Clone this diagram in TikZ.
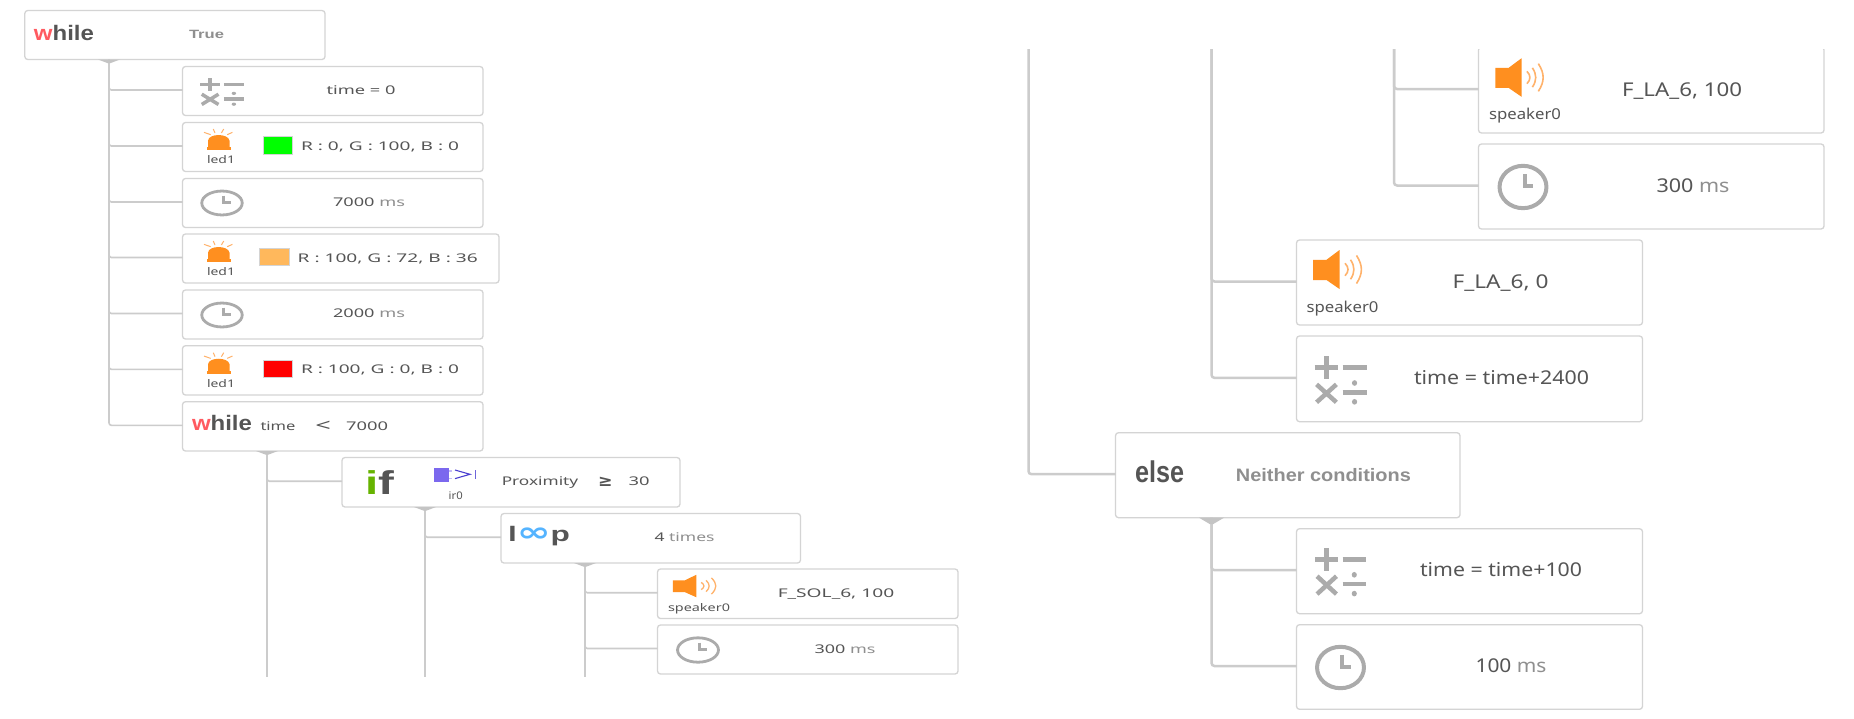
\documentclass[tikz,border=0pt]{standalone}
\usepackage{fontspec}
\setmainfont{Noto Sans}
\newfontfamily\djv{DejaVu Sans}
\newfontfamily\hvy{Liberation Sans}
\definecolor{edgeg}{HTML}{D4D4D4}
\definecolor{lineg}{HTML}{CCCCCC}
\definecolor{notch}{HTML}{C4C4C4}
\definecolor{txt}{HTML}{555555}
\definecolor{soft}{HTML}{8F8F8F}
\definecolor{icong}{HTML}{ABABAB}
\definecolor{orng}{HTML}{FF8F1F}
\definecolor{orngl}{HTML}{FFB26B}
\definecolor{swo}{HTML}{FFB85C}
\definecolor{redw}{HTML}{FF5A60}
\definecolor{greeni}{HTML}{66B300}
\definecolor{bluel}{HTML}{55B4FF}
\definecolor{irv}{HTML}{7B68EE}
\definecolor{irb}{HTML}{4A3FD0}
\tikzset{
  x=1pt,y=-1pt,
  blk/.style={draw=edgeg,line width=1.3pt,rounded corners=3pt,fill=white,inner sep=0pt,outer sep=0pt},
  elbowl/.style={draw=lineg,line width=1.6pt,rounded corners=2.5pt},
  elbowr/.style={draw=lineg,line width=2.5pt,rounded corners=3pt},
  trunkl/.style={draw=lineg,line width=2.6pt},
  swatch/.style={draw=edgeg,line width=1pt,inner sep=0pt,outer sep=0pt},
  lbl/.style={anchor=base,inner sep=0pt,outer sep=0pt,text=txt},
  calcicon/.pic={
    \draw[icong] (-.5,-.26)--(-.04,-.26) (-.27,-.5)--(-.27,-.02);
    \draw[icong] (.04,-.26)--(.5,-.26);
    \draw[icong] (-.46,.1)--(-.08,.48) (-.08,.1)--(-.46,.48);
    \draw[icong] (.04,.27)--(.5,.27);
    \fill[icong] (.27,.07) ellipse (.05 and .06) (.27,.47) ellipse (.05 and .06);
  },
  clockicon/.pic={
    \draw[icong] (0,0) circle (.46);
    \draw[icong] (.03,-.28)--(.03,-.02)--(.2,-.02);
  },
  ledicon/.pic={
    \draw[orngl,line width=1pt] (-.5,-.34)--(-.27,-.23) (-.18,-.5)--(-.12,-.31) (.18,-.5)--(.1,-.31) (.48,-.34)--(.3,-.23);
    \fill[orng] (-.36,.42)--(-.36,.05) .. controls (-.34,-.3) and (.34,-.3) .. (.38,.05)--(.38,.42)--cycle;
    \fill[orng] (-.41,.38) rectangle (.42,.5);
  },
  speakericon/.pic={
    \fill[orng] (-.5,-.25)--(-.23,-.25)--(.03,-.5)--(.03,.5)--(-.23,.27)--(-.5,.27)--cycle;
    \draw[orngl] (.14,-.16) .. controls (.22,-.06) and (.22,.06) .. (.14,.16);
    \draw[orngl] (.25,-.25) .. controls (.34,-.08) and (.34,.08) .. (.25,.25);
    \draw[orngl] (.37,-.36) .. controls (.5,-.1) and (.5,.1) .. (.37,.36);
  },
}
\newcommand\bx[5]{\pgfmathsetmacro\myW{#4-#2}\pgfmathsetmacro\myH{#5-#3}%
  \node[blk,anchor=north west,minimum width=\myW pt,minimum height=\myH pt] (#1) at (#2,#3) {};}
% name, centre x, visual centre y, width, font size, text
\newcommand\lab[6]{\pgfmathsetmacro\myY{#3+.36*#5}%
  \node[lbl] (#1) at (#2,\myY) {\resizebox{#4pt}{\height}{\fontsize{#5}{#5}\selectfont #6}};}
\newcommand\icon[6]{\pic[shift={(#2,#3)},xscale=#4,yscale=#5,line width=#6pt] {#1};}
\newcommand\notchl[1]{\fill[notch,shift={(#1)}] (-11,0)--(11,0)--(1.5,3.6)--(-1.5,3.6)--cycle;}
\newcommand\notchr[1]{\fill[notch,shift={(#1)}] (-12.5,0)--(12.5,0)--(1.5,6.5)--(-1.5,6.5)--cycle;}
\begin{document}
\begin{tikzpicture}
\useasboundingbox[fill=white] (0,0) rectangle (1854,718);
% ---------- left panel boxes
\bx{w1}{24.8}{10.5}{325}{59.5}
\bx{calcA}{182.5}{66.5}{483}{115.5}
\bx{ledA}{182.5}{122.5}{483}{171.5}
\bx{clkA}{182.5}{178.5}{483}{227.5}
\bx{ledB}{182.5}{234}{499}{283}
\bx{clkB}{182.5}{290}{483}{339}
\bx{ledC}{182.5}{345.7}{483}{395}
\bx{w2}{182.5}{401.7}{483}{451}
\bx{ifA}{342}{457.5}{680}{507}
\bx{loopA}{501}{513.5}{800.5}{563}
\bx{spkA}{657.5}{569}{958}{618.5}
\bx{clkC}{657.5}{625}{958}{674}
% ---------- right panel boxes
\begin{scope}
\clip (1470,49) rectangle (1840,140);
\bx{spkB}{1478.5}{47}{1824}{133}
\end{scope}
\bx{clkD}{1478.5}{144}{1824}{229}
\bx{spkC}{1296.5}{240}{1642.5}{325}
\bx{calcB}{1296.5}{336}{1642.5}{421.7}
\bx{els}{1115.5}{432.7}{1460}{517.7}
\bx{calcC}{1296.5}{528.7}{1642.5}{613.7}
\bx{clkE}{1296.5}{624.7}{1642.5}{709.3}
% ---------- trunk anchors
\coordinate (a1) at (109,59.5); \coordinate (z1) at (109,415);
\coordinate (a2) at (267,451);  \coordinate (z2) at (267,676.5);
\coordinate (a3) at (425,507);  \coordinate (z3) at (425,676.5);
\coordinate (a4) at (585,563);  \coordinate (z4) at (585,676.5);
\coordinate (r1) at (1028.5,49);
\coordinate (r2) at (1211.5,49);
\coordinate (r3) at (1394,49);
\coordinate (a5) at (1211.5,517.7);
% ---------- connectors
\foreach \c in {calcA,ledA,clkA,ledB,clkB,ledC,w2} \draw[elbowl] (a1) |- ([yshift=1pt]\c.west);
\draw[trunkl] (a1) -- (z1);
\draw[elbowl] (a2) |- ([yshift=1pt]ifA.west);
\draw[elbowl] (a3) |- ([yshift=1pt]loopA.west);
\foreach \c in {spkA,clkC} \draw[elbowl] (a4) |- ([yshift=1pt]\c.west);
\draw[trunkl] (a2) -- (z2);
\draw[trunkl] (a3) -- (z3);
\draw[trunkl] (a4) -- (z4);
\foreach \c in {spkB,clkD} \draw[elbowr] (r3) |- ([yshift=1pt]\c.west);
\foreach \c in {spkC,calcB} \draw[elbowr] (r2) |- ([yshift=1pt]\c.west);
\draw[elbowr] (r1) |- ([yshift=1pt]els.west);
\foreach \c in {calcC,clkE} \draw[elbowr] (a5) |- ([yshift=1pt]\c.west);
\notchl{a1}\notchl{a2}\notchl{a3}\notchl{a4}\notchr{a5}
% ---------- left panel contents
\lab{w1word}{64}{32.8}{60}{21}{\hvy\bfseries\textcolor{redw}{w}hile}
\lab{w1cond}{206.5}{34}{35}{12}{\textcolor{soft}{\hvy\bfseries True}}
\icon{calcicon}{222}{91.5}{44}{27}{3.5}
\lab{calcAt}{361}{90}{69}{12}{time = 0}
\icon{ledicon}{218.5}{139.5}{29}{21}{2}
\lab{ledAn}{221}{160}{28}{10.5}{led1}
\node[swatch,fill=green,minimum width=29.5pt,minimum height=17.5pt,anchor=north west] (swA) at (263.3,136.7) {};
\lab{ledAt}{380}{146}{158}{12}{R : 0, G : 100, B : 0}
\icon{clockicon}{222}{203}{44}{26}{2.8}
\lab{clkAt}{369}{202}{72}{12}{7000 \textcolor{soft}{ms}}
\icon{ledicon}{218.5}{251.5}{29}{21}{2}
\lab{ledBn}{221}{272}{28}{10.5}{led1}
\node[swatch,fill=swo,minimum width=29.5pt,minimum height=17.5pt,anchor=north west] (swB) at (259.5,248.3) {};
\lab{ledBt}{387.7}{258}{180}{12}{R : 100, G : 72, B : 36}
\icon{clockicon}{222}{315}{44}{26}{2.8}
\lab{clkBt}{369}{313.5}{72}{12}{2000 \textcolor{soft}{ms}}
\icon{ledicon}{218.5}{363.2}{29}{21}{2}
\lab{ledCn}{221}{384}{28}{10.5}{led1}
\node[swatch,fill=red,minimum width=29.5pt,minimum height=17.5pt,anchor=north west] (swC) at (263.3,360.2) {};
\lab{ledCt}{380}{369.3}{158}{12}{R : 100, G : 0, B : 0}
\lab{w2word}{222}{422.8}{60}{21}{\hvy\bfseries\textcolor{redw}{w}hile}
\lab{w2var}{278}{425.7}{35}{12}{time}
\lab{w2op}{323}{425.5}{15.5}{17}{<}
\lab{w2val}{367}{425.7}{42}{12}{7000}
\lab{ifword}{379.5}{483}{29}{33}{\hvy\bfseries\textcolor{greeni}{i}f}
\fill[irv] (434.3,467.7) rectangle (449,481.7);
\draw[irv!45,line width=1.2pt] (449,471)--(452,471) (449,478.5)--(452,478.5);
\draw[irb,line width=1.1pt] (455,470)--(470,474.3)--(455,478.6);
\draw[irb!80,line width=1.4pt] (475.2,470)--(475.2,479);
\lab{irn}{455.7}{496}{14}{10.5}{ir0}
\lab{ifvar}{540}{481.3}{76.5}{12}{Proximity}
\lab{ifop}{605.3}{481}{14.5}{16}{\djv\bfseries ≥}
\lab{ifval}{639}{481.3}{21}{12}{30}
\lab{lpword}{539}{534}{62}{21}{\hvy\bfseries l\textcolor{bluel}{\fontsize{27}{27}\selectfont\djv\bfseries ∞}p}
\lab{lpval}{684.5}{537}{60}{12}{4 \textcolor{soft}{times}}
\icon{speakericon}{695}{586}{44.5}{22.5}{1.3}
\lab{spkAn}{699}{607.3}{62}{10.5}{speaker0}
\lab{spkAt}{836}{593}{116.5}{12}{F\_SOL\_6, 100}
\icon{clockicon}{698}{650}{44.5}{26.5}{2.8}
\lab{clkCt}{845}{649}{61}{12}{300 \textcolor{soft}{ms}}
% ---------- right panel contents
\icon{speakericon}{1520}{77.5}{49.5}{38.5}{1.6}
\lab{spkBn}{1525}{114}{72}{15}{speaker0}
\lab{spkBt}{1682}{90}{120}{19}{F\_LA\_6, 100}
\icon{clockicon}{1523}{187}{51}{46}{4}
\lab{clkDt}{1693}{186}{73}{19}{300 \textcolor{soft}{ms}}
\icon{speakericon}{1338}{269.5}{50}{39}{1.6}
\lab{spkCn}{1342.5}{306.7}{72}{15}{speaker0}
\lab{spkCt}{1500.5}{282}{96}{19}{F\_LA\_6, 0}
\icon{calcicon}{1340.5}{379.7}{52}{47}{4.5}
\lab{calcBt}{1501.5}{378}{175}{19}{time = time+2400}
\lab{elword}{1159.5}{472}{49}{30}{\hvy\bfseries else}
\lab{elcond}{1323.4}{475}{175}{18}{\textcolor{soft}{\hvy\bfseries Neither conditions}}
\icon{calcicon}{1340.5}{571.5}{51}{47}{4.5}
\lab{calcCt}{1501}{570}{162}{19}{time = time+100}
\icon{clockicon}{1340.5}{667.5}{51}{45}{4}
\lab{clkEt}{1511}{666}{71}{19}{100 \textcolor{soft}{ms}}
\end{tikzpicture}
\end{document}
